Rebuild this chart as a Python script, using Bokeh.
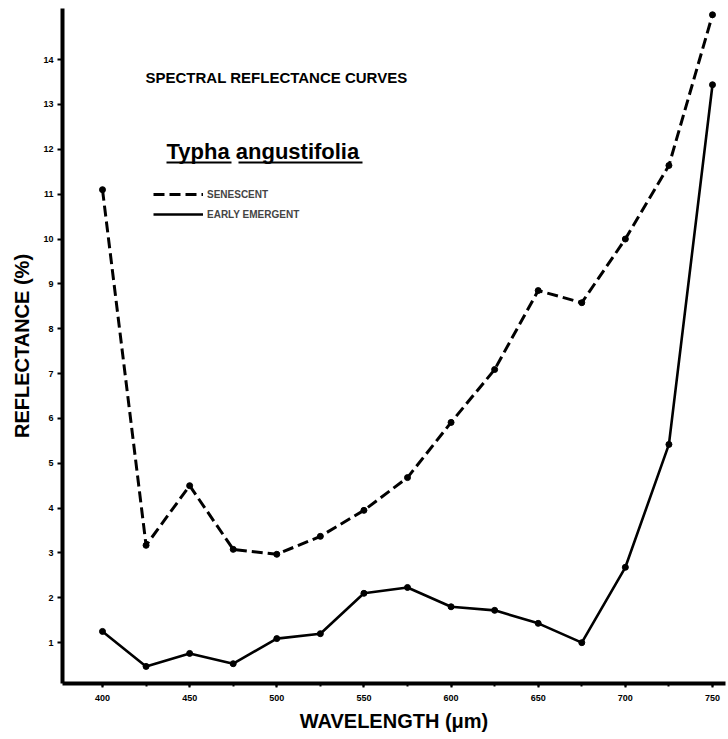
from bokeh.plotting import figure
from bokeh.models import Range1d, FixedTicker, Label, Legend, LegendItem
from bokeh.embed import file_html
from bokeh.resources import INLINE

# ---- data ----
wavelength = [400, 425, 450, 475, 500, 525, 550, 575, 600, 625, 650, 675, 700, 725, 750]
senescent = [11.1, 3.17, 4.5, 3.08, 2.97, 3.37, 3.95, 4.68, 5.91, 7.09, 8.85, 8.58, 10.0, 11.64, 15.0]
early_emergent = [1.25, 0.47, 0.76, 0.53, 1.09, 1.2, 2.1, 2.23, 1.8, 1.72, 1.43, 1.0, 2.68, 5.42, 13.44]
x_ticks = [400, 450, 500, 550, 600, 650, 700, 750]
y_ticks = [1, 2, 3, 4, 5, 6, 7, 8, 9, 10, 11, 12, 13, 14]
series_names = ["SENESCENT", "EARLY EMERGENT"]
title_text = "SPECTRAL REFLECTANCE CURVES"
species_words = ["Typha", "angustifolia"]

FONT = "Liberation Sans"
X0, X1 = 377.05, 757.46
Y0, Y1 = 0.089, 15.14

# frame edges in page pixels (for placing annotations)
W, H = 728, 739
FL, FR, FT, FB = 62, 725, 8, 683


def dx(px):
    return X0 + (px - FL) / (FR - FL) * (X1 - X0)


def dy(py):
    return Y0 + (FB - py) / (FB - FT) * (Y1 - Y0)


p = figure(width=W, height=H, output_backend="svg", toolbar_location=None,
           x_range=Range1d(X0, X1), y_range=Range1d(Y0, Y1),
           min_border_left=FL, min_border_right=W - FR, min_border_top=FT, min_border_bottom=H - FB)
p.outline_line_color = None
p.xgrid.visible = False
p.ygrid.visible = False
p.background_fill_color = "white"
p.border_fill_color = "white"

# axes
for ax in (p.xaxis[0], p.yaxis[0]):
    ax.axis_line_width = 4
    ax.axis_line_color = "black"
    ax.major_tick_line_color = "black"
    ax.major_tick_line_width = 2
    ax.major_tick_in = 0
    ax.major_label_text_font = FONT
    ax.major_label_text_font_style = "bold"
    ax.major_label_text_font_size = "9px"
    ax.major_label_text_color = "black"
    ax.axis_label_text_font = FONT
    ax.axis_label_text_font_style = "bold"
    ax.axis_label_text_font_size = "20px"
    ax.axis_label_text_color = "black"

p.xaxis[0].ticker = FixedTicker(ticks=x_ticks, minor_ticks=wavelength)
p.xaxis[0].major_tick_out = 4
p.xaxis[0].minor_tick_out = 3
p.xaxis[0].minor_tick_in = 0
p.xaxis[0].minor_tick_line_width = 2
p.xaxis[0].minor_tick_line_color = "black"
p.xaxis[0].major_label_standoff = 7
p.xaxis[0].axis_label = "WAVELENGTH (\u03bcm)"
p.xaxis[0].axis_label_standoff = 6

p.yaxis[0].ticker = FixedTicker(ticks=y_ticks)
p.yaxis[0].major_tick_out = 5
p.yaxis[0].minor_tick_line_color = None
p.yaxis[0].major_label_standoff = 4
p.yaxis[0].axis_label = "REFLECTANCE (%)"
p.yaxis[0].axis_label_standoff = 7

# data lines and markers
r_sen = p.line(wavelength, senescent, line_color="black", line_width=3, line_dash="11 5")
p.scatter(wavelength, senescent, size=6, color="black")
r_early = p.line(wavelength, early_emergent, line_color="black", line_width=2.6)
p.scatter(wavelength, early_emergent, size=6, color="black")

legend = Legend(items=[LegendItem(label=series_names[0], renderers=[r_sen]),
                       LegendItem(label=series_names[1], renderers=[r_early])],
                location=(91, 462), glyph_width=50, glyph_height=14, label_height=14,
                spacing=6, padding=0, margin=0, label_standoff=4,
                label_text_font=FONT, label_text_font_style="bold", label_text_font_size="10px",
                border_line_color=None, background_fill_alpha=0)
p.add_layout(legend, "center")

# title texts
p.add_layout(Label(x=dx(145), y=dy(77), text=title_text, text_font=FONT,
                   text_font_style="bold", text_font_size="15px", text_color="black",
                   text_baseline="alphabetic"))
p.add_layout(Label(x=dx(166), y=dy(151), text=" ".join(species_words), text_font=FONT,
                   text_font_style="bold", text_font_size="22px", text_color="black",
                   text_baseline="alphabetic"))
# underlines of the species name
p.segment(x0=[dx(166), dx(238)], y0=[dy(162), dy(162)], x1=[dx(231), dx(362)], y1=[dy(162), dy(162)],
          line_color="black", line_width=2)

open("out.html", "w").write(file_html(p, INLINE))
